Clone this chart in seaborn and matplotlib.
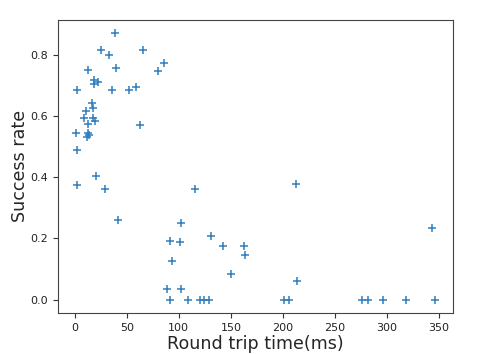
import matplotlib
matplotlib.use("Agg")
import matplotlib.pyplot as plt
import seaborn as sns
import pandas as pd

# Round trip time (ms) vs success rate
rtt = [38.5, 25.3, 33.0, 65.7, 85.9, 80.5, 12.5, 39.4, 18.9, 22.4,
       18.3, 1.9, 35.6, 52.6, 59.3, 17.0, 18.0, 10.6, 9.3, 17.6,
       19.5, 12.5, 63.2, 1.3, 12.5, 13.5, 12.2, 1.9, 20.2, 2.2,
       29.5, 41.3, 102.2, 91.6, 100.7, 93.3, 88.5, 102.2, 115.4, 212.2,
       343.3, 130.5, 142.3, 162.5, 163.8, 150.3, 213.2,
       91.7, 108.8, 120.7, 124.6, 128.6, 201.0, 205.5, 276.0, 282.0,
       296.5, 318.0, 346.0]
success = [0.872, 0.818, 0.801, 0.818, 0.775, 0.747, 0.751, 0.758, 0.720, 0.713,
           0.707, 0.686, 0.687, 0.687, 0.695, 0.645, 0.628, 0.617, 0.593, 0.594,
           0.583, 0.574, 0.571, 0.544, 0.544, 0.538, 0.533, 0.488, 0.404, 0.376,
           0.363, 0.260, 0.252, 0.193, 0.188, 0.125, 0.034, 0.034, 0.363, 0.379,
           0.235, 0.208, 0.177, 0.177, 0.146, 0.083, 0.062,
           0.0, 0.0, 0.0, 0.0, 0.0, 0.0, 0.0, 0.0, 0.0,
           0.0, 0.0, 0.0]

df = pd.DataFrame({"rtt": rtt, "success": success})

sns.set_style("ticks")
plt.rcParams['font.family'] = ['DejaVu Sans']

fig, ax = plt.subplots(figsize=(4.88, 3.54), dpi=100)
sns.scatterplot(data=df, x="rtt", y="success", marker="+", s=30,
                color="#2f7fbf", linewidth=1.1, ax=ax)

ax.set_xticks([0, 50, 100, 150, 200, 250, 300, 350])
ax.set_yticks([0.0, 0.2, 0.4, 0.6, 0.8])
ax.tick_params(labelsize=8, colors="#333333", labelcolor="#222222")
ax.set_xlabel("Round trip time(ms)", fontsize=12.6, labelpad=2)
ax.set_ylabel("Success rate", fontsize=12.6, labelpad=1)
for s in ax.spines.values():
    s.set_visible(True)
    s.set_color("#444444")

plt.subplots_adjust(left=0.119, right=0.928, bottom=0.116, top=0.944)
plt.savefig("out.png", dpi=100)
